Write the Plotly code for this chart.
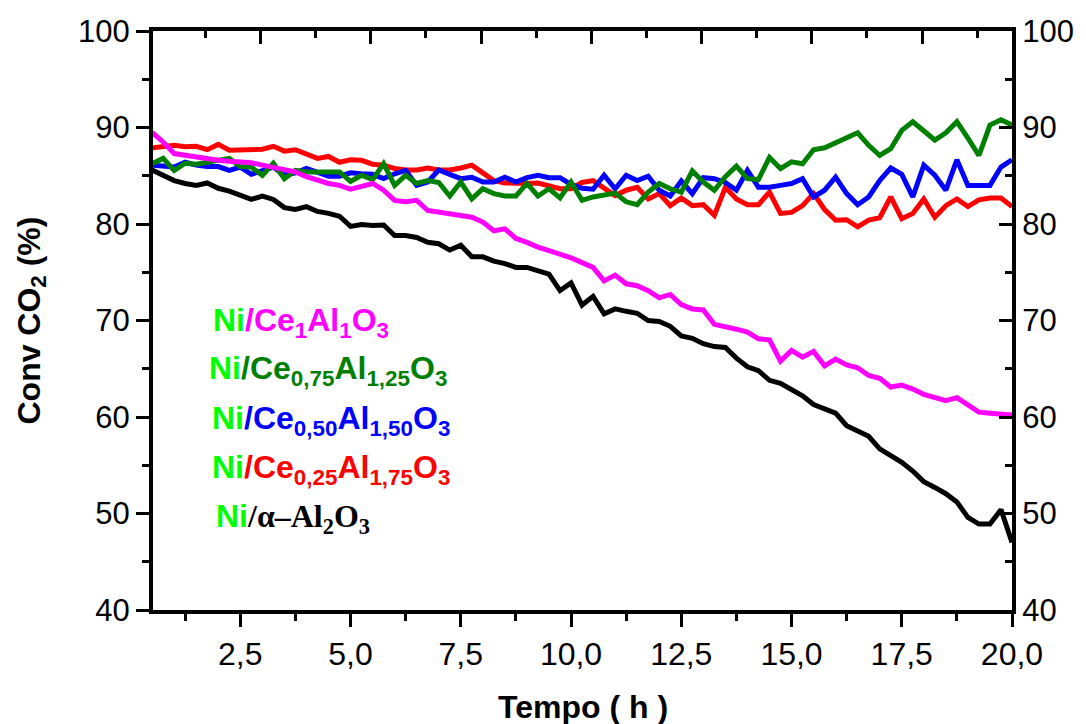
import plotly.graph_objects as go

tempo = [0.5, 0.75, 1.0, 1.25, 1.5, 1.75, 2.0, 2.25, 2.5, 2.75,
         3.0, 3.25, 3.5, 3.75, 4.0, 4.25, 4.5, 4.75, 5.0, 5.25,
         5.5, 5.75, 6.0, 6.25, 6.5, 6.75, 7.0, 7.25, 7.5, 7.75,
         8.0, 8.25, 8.5, 8.75, 9.0, 9.25, 9.5, 9.75, 10.0, 10.25,
         10.5, 10.75, 11.0, 11.25, 11.5, 11.75, 12.0, 12.25, 12.5, 12.75,
         13.0, 13.25, 13.5, 13.75, 14.0, 14.25, 14.5, 14.75, 15.0, 15.25,
         15.5, 15.75, 16.0, 16.25, 16.5, 16.75, 17.0, 17.25, 17.5, 17.75,
         18.0, 18.25, 18.5, 18.75, 19.0, 19.25, 19.5, 19.75, 20.0]

alpha_al2o3 = [85.6, 85.0, 84.5, 84.2, 84.0, 84.25, 83.7, 83.4, 83.0, 82.55,
               82.9, 82.55, 81.7, 81.5, 81.8, 81.3, 81.1, 80.8, 79.75, 79.95,
               79.85, 79.9, 78.8, 78.8, 78.6, 78.1, 77.95, 77.3, 77.8, 76.6,
               76.6, 76.15, 75.9, 75.5, 75.5, 75.1, 74.8, 73.1, 73.9, 71.6,
               72.5, 70.7, 71.2, 70.95, 70.75, 70.0, 69.9, 69.4, 68.4, 68.15,
               67.6, 67.3, 67.2, 66.1, 65.2, 64.8, 63.8, 63.5, 62.9, 62.2,
               61.3, 60.8, 60.4, 59.1, 58.5, 58.0, 56.7, 56.0, 55.3, 54.4,
               53.3, 52.7, 52.05, 51.2, 49.6, 48.9, 48.9, 50.4, 47.0]

ce1_al1 = [89.5, 88.5, 87.3, 87.1, 86.9, 86.75, 86.6, 86.5, 86.4, 86.35,
           86.1, 85.9, 85.7, 85.4, 84.9, 84.5, 84.2, 84.0, 83.6, 83.9,
           84.2, 83.5, 82.45, 82.3, 82.45, 81.4, 81.25, 81.1, 80.9, 80.7,
           80.2, 79.3, 79.5, 78.5, 78.1, 77.6, 77.25, 76.9, 76.5, 76.0,
           75.5, 74.1, 74.7, 73.8, 73.6, 73.1, 72.35, 72.7, 71.65, 71.2,
           71.1, 69.6, 69.4, 69.1, 68.8, 68.1, 68.0, 65.8, 66.9, 66.2,
           66.8, 65.3, 66.0, 65.4, 65.1, 64.3, 64.0, 63.1, 63.3, 62.9,
           62.35, 62.0, 61.7, 62.0, 61.3, 60.5, 60.4, 60.35, 60.2]

ce075_al125 = [86.25, 86.8, 85.55, 86.3, 86.2, 86.4, 86.65, 86.8, 85.95, 85.9,
               85.05, 86.3, 84.7, 85.55, 85.4, 85.4, 85.4, 85.4, 84.4, 85.05,
               84.6, 86.25, 84.0, 85.05, 84.2, 84.5, 84.3, 82.9, 84.35, 82.6,
               83.65, 83.15, 82.9, 82.9, 84.2, 82.9, 83.65, 82.7, 84.35, 82.45,
               82.8, 83.0, 83.2, 82.3, 82.0, 83.3, 84.2, 83.65, 83.3, 85.5,
               84.35, 83.5, 84.9, 86.0, 84.7, 84.6, 86.9, 85.75, 86.45, 86.25,
               87.7, 87.9, 88.4, 89.0, 89.45, 88.15, 87.1, 87.8, 89.7, 90.6,
               89.7, 88.7, 89.45, 90.6, 88.9, 87.1, 90.25, 90.8, 90.25]

ce050_al150 = [86.1, 86.0, 85.9, 86.4, 86.1, 85.95, 85.95, 85.55, 85.9, 85.15,
               85.5, 85.9, 85.05, 85.3, 85.75, 85.4, 84.95, 84.95, 85.3, 85.2,
               85.15, 84.7, 85.2, 85.55, 84.0, 84.35, 85.6, 85.15, 84.7, 84.85,
               84.35, 84.35, 84.85, 84.35, 84.8, 85.05, 84.8, 84.8, 84.1, 83.7,
               83.6, 85.05, 83.65, 85.05, 84.5, 84.95, 83.5, 82.9, 84.45, 83.15,
               84.8, 84.7, 84.3, 83.5, 85.55, 83.8, 83.8, 84.0, 84.2, 84.7,
               82.8, 83.5, 84.85, 83.15, 82.0, 82.8, 84.5, 85.8, 85.15, 82.8,
               86.1, 85.05, 83.5, 86.65, 84.0, 84.0, 84.0, 85.9, 86.65]

ce025_al175 = [87.9, 88.0, 88.15, 88.0, 88.05, 87.7, 88.25, 87.65, 87.7, 87.8,
               87.75, 88.05, 87.55, 87.7, 87.2, 86.8, 87.0, 86.4, 86.65, 86.6,
               86.2, 86.1, 85.75, 85.6, 85.6, 85.8, 85.6, 85.6, 85.8, 86.1,
               85.3, 84.5, 84.25, 84.2, 84.2, 84.25, 84.0, 83.65, 83.65, 84.3,
               84.5, 83.8, 82.95, 83.5, 83.8, 82.6, 83.15, 81.9, 82.7, 81.9,
               82.0, 80.9, 83.8, 82.6, 82.0, 82.0, 83.3, 81.1, 81.2, 81.9,
               83.15, 81.5, 80.4, 80.45, 79.7, 80.4, 80.65, 82.8, 80.55, 81.1,
               82.6, 80.7, 81.9, 82.6, 81.8, 82.5, 82.7, 82.7, 81.8]

series = [
    ("Ni/α-Al2O3", alpha_al2o3, "#000000"),
    ("Ni/Ce0,25Al1,75O3", ce025_al175, "#FF0000"),
    ("Ni/Ce0,50Al1,50O3", ce050_al150, "#0000FF"),
    ("Ni/Ce0,75Al1,25O3", ce075_al125, "#008000"),
    ("Ni/Ce1Al1O3", ce1_al1, "#FF00FF"),
]

x_range = [0.52, 20.0]
y_range = [40, 100]

fig = go.Figure()
for name, vals, col in series:
    fig.add_trace(go.Scatter(x=tempo, y=vals, mode="lines", name=name,
                             line=dict(color=col, width=5), showlegend=False))

# invisible trace to activate the mirrored top / right axes
fig.add_trace(go.Scatter(x=[x_range[0]], y=[y_range[0]], xaxis="x2", yaxis="y2",
                         mode="markers", marker=dict(opacity=0), showlegend=False,
                         hoverinfo="skip"))

font_sans = "Liberation Sans, Arial, sans-serif"

axis_common = dict(showgrid=False, zeroline=False, showline=True,
                   linecolor="black", linewidth=4, tickcolor="black",
                   tickwidth=3)

fig.update_layout(
    width=1086, height=724,
    margin=dict(l=153, r=71, t=31, b=114),
    paper_bgcolor="white", plot_bgcolor="white",
    separators=",.",
    xaxis=dict(range=x_range, ticks="outside", ticklen=13, dtick=2.5, tick0=0,
               tickformat=".1f",
               minor=dict(dtick=1.25, tick0=0, ticks="outside", ticklen=7,
                          tickwidth=3, tickcolor="black"),
               tickfont=dict(family=font_sans, size=32, color="black"),
               **axis_common),
    yaxis=dict(range=y_range, ticks="outside", ticklen=13, dtick=10,
               minor=dict(dtick=5, ticks="outside", ticklen=7, tickwidth=3,
                          tickcolor="black"),
               tickfont=dict(family=font_sans, size=31, color="black"),
               **axis_common),
    xaxis2=dict(range=x_range, overlaying="x", side="top", ticks="inside",
                ticklen=13, dtick=2.5, tick0=2.96, showticklabels=False,
                minor=dict(dtick=1.25, tick0=1.71, ticks="inside", ticklen=7,
                           tickwidth=3, tickcolor="black"),
                **axis_common),
    yaxis2=dict(range=y_range, overlaying="y", side="right", ticks="inside",
                ticklen=13, dtick=10,
                minor=dict(dtick=5, ticks="inside", ticklen=7, tickwidth=3,
                           tickcolor="black"),
                tickfont=dict(family=font_sans, size=31, color="black"),
                **axis_common),
)

# axis titles
fig.add_annotation(text="<b>Tempo ( h )</b>", xref="paper", yref="paper",
                   x=0.5, y=-0.168, xanchor="center", yanchor="middle",
                   showarrow=False, font=dict(family=font_sans, size=32, color="black"))
fig.add_annotation(text="<b>Conv CO<sub>2</sub> (%)</b>", xref="paper", yref="paper",
                   x=-0.142, y=0.5, xanchor="center", yanchor="middle", textangle=-90,
                   showarrow=False, font=dict(family=font_sans, size=32, color="black"))

NI = "#00FF00"
legend_rows = [
    ("<b><span style='color:%s'>Ni</span><span style='color:#FF00FF'>/Ce<sub>1</sub>Al<sub>1</sub>O<sub>3</sub></span></b>" % NI, 211, 322),
    ("<b><span style='color:%s'>Ni</span><span style='color:#008000'>/Ce<sub>0,75</sub>Al<sub>1,25</sub>O<sub>3</sub></span></b>" % NI, 207, 371),
    ("<b><span style='color:%s'>Ni</span><span style='color:#0000FF'>/Ce<sub>0,50</sub>Al<sub>1,50</sub>O<sub>3</sub></span></b>" % NI, 210, 420),
    ("<b><span style='color:%s'>Ni</span><span style='color:#FF0000'>/Ce<sub>0,25</sub>Al<sub>1,75</sub>O<sub>3</sub></span></b>" % NI, 210, 469),
    ("<b><span style='color:%s'>Ni</span><span style='color:#000000;font-family:Liberation Serif'>/α–Al<sub>2</sub>O<sub>3</sub></span></b>" % NI, 214, 518),
]
plot_l, plot_r, plot_t, plot_b = 153, 1015, 31, 610
for txt, px, py in legend_rows:
    fig.add_annotation(text=txt, xref="paper", yref="paper",
                       x=(px - plot_l) / (plot_r - plot_l),
                       y=(plot_b - py) / (plot_b - plot_t),
                       xanchor="left", yanchor="middle", showarrow=False,
                       align="left",
                       font=dict(family=font_sans, size=32, color="black"))

fig.write_html("out.html")
